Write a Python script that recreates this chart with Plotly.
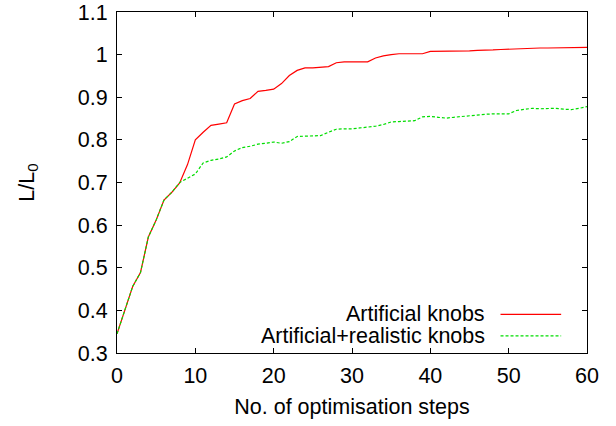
import plotly.graph_objects as go

steps = list(range(0, 61))

artificial = [0.345, 0.401, 0.456, 0.489, 0.572, 0.612, 0.659, 0.677, 0.699, 0.742,
              0.800, 0.818, 0.834, 0.837, 0.840, 0.884, 0.892, 0.897, 0.914, 0.916,
              0.919, 0.932, 0.951, 0.963, 0.969, 0.969, 0.970, 0.972, 0.981, 0.983,
              0.983, 0.983, 0.983, 0.992, 0.997, 1.000, 1.002, 1.002, 1.002, 1.002,
              1.0075, 1.0075, 1.0075, 1.0075, 1.008, 1.009, 1.010, 1.010, 1.011, 1.012,
              1.013, 1.014, 1.015, 1.0155, 1.0155, 1.0155, 1.0155, 1.016, 1.016, 1.0165,
              1.017]

realistic = [0.345, 0.401, 0.456, 0.489, 0.572, 0.612, 0.659, 0.677, 0.700, 0.710,
             0.720, 0.746, 0.752, 0.755, 0.760, 0.774, 0.782, 0.785, 0.790, 0.792,
             0.795, 0.792, 0.796, 0.808, 0.809, 0.809, 0.810, 0.818, 0.825, 0.826,
             0.826, 0.828, 0.830, 0.832, 0.836, 0.842, 0.843, 0.844, 0.845, 0.854,
             0.855, 0.853, 0.851, 0.853, 0.855, 0.857, 0.859, 0.860, 0.861, 0.861,
             0.861, 0.869, 0.872, 0.874, 0.873, 0.873, 0.874, 0.872, 0.871, 0.874,
             0.878]

series_names = ["Artificial knobs", "Artificial+realistic knobs"]
series_colors = ["#ff0000", "#00dd00"]
series_dash = ["solid", "3px,2px"]

x_ticks = [0, 10, 20, 30, 40, 50, 60]
y_ticks = [0.3, 0.4, 0.5, 0.6, 0.7, 0.8, 0.9, 1.0, 1.1]
y_tick_text = ["0.3", "0.4", "0.5", "0.6", "0.7", "0.8", "0.9", "1", "1.1"]

FONT = "Liberation Sans, Arial, Helvetica, sans-serif"
FS = 21.5

fig = go.Figure()
for name, vals, col, dash in zip(series_names, [artificial, realistic], series_colors, series_dash):
    fig.add_trace(go.Scatter(x=steps, y=vals, mode="lines", name=name,
                             line=dict(color=col, width=1.2, dash=dash),
                             showlegend=False, hoverinfo="skip"))

axis_common = dict(showline=True, linecolor="black", linewidth=1, mirror="ticks",
                   ticks="inside", ticklen=5, tickcolor="black", showgrid=False,
                   zeroline=False, automargin=False, ticklabeloverflow="allow",
                   tickfont=dict(family=FONT, size=FS, color="black"))

fig.update_xaxes(range=[0, 60], tickvals=x_ticks, ticklabelstandoff=3,
                 title=dict(text="No. of optimisation steps", font=dict(family=FONT, size=FS, color="black"), standoff=12),
                 **axis_common)
fig.update_yaxes(range=[0.3, 1.1], tickvals=y_ticks, ticktext=y_tick_text, ticklabelstandoff=4,
                 title=dict(text="L/L<sub>0</sub>", font=dict(family=FONT, size=FS, color="black"), standoff=37),
                 **axis_common)

# Legend (gnuplot style: text right-aligned, sample to the right)
leg_y = [0.1135, 0.05]
for name, col, dash, yy in zip(series_names, series_colors, series_dash, leg_y):
    fig.add_annotation(x=0.7866, y=yy, xref="paper", yref="paper", text=name,
                       showarrow=False, xanchor="right", yanchor="middle",
                       font=dict(family=FONT, size=21.5, color="black"))
    fig.add_shape(type="line", xref="paper", yref="paper", x0=0.816, x1=0.945, y0=yy, y1=yy,
                  line=dict(color=col, width=1.2, dash=dash))

fig.update_layout(width=616, height=426, margin=dict(l=117, r=29, t=12, b=73, autoexpand=False),
                  plot_bgcolor="white", paper_bgcolor="white",
                  font=dict(family=FONT, size=FS, color="black"))

fig.write_html("out.html", config={"displayModeBar": False},
               post_script="document.body.style.margin='0';")
